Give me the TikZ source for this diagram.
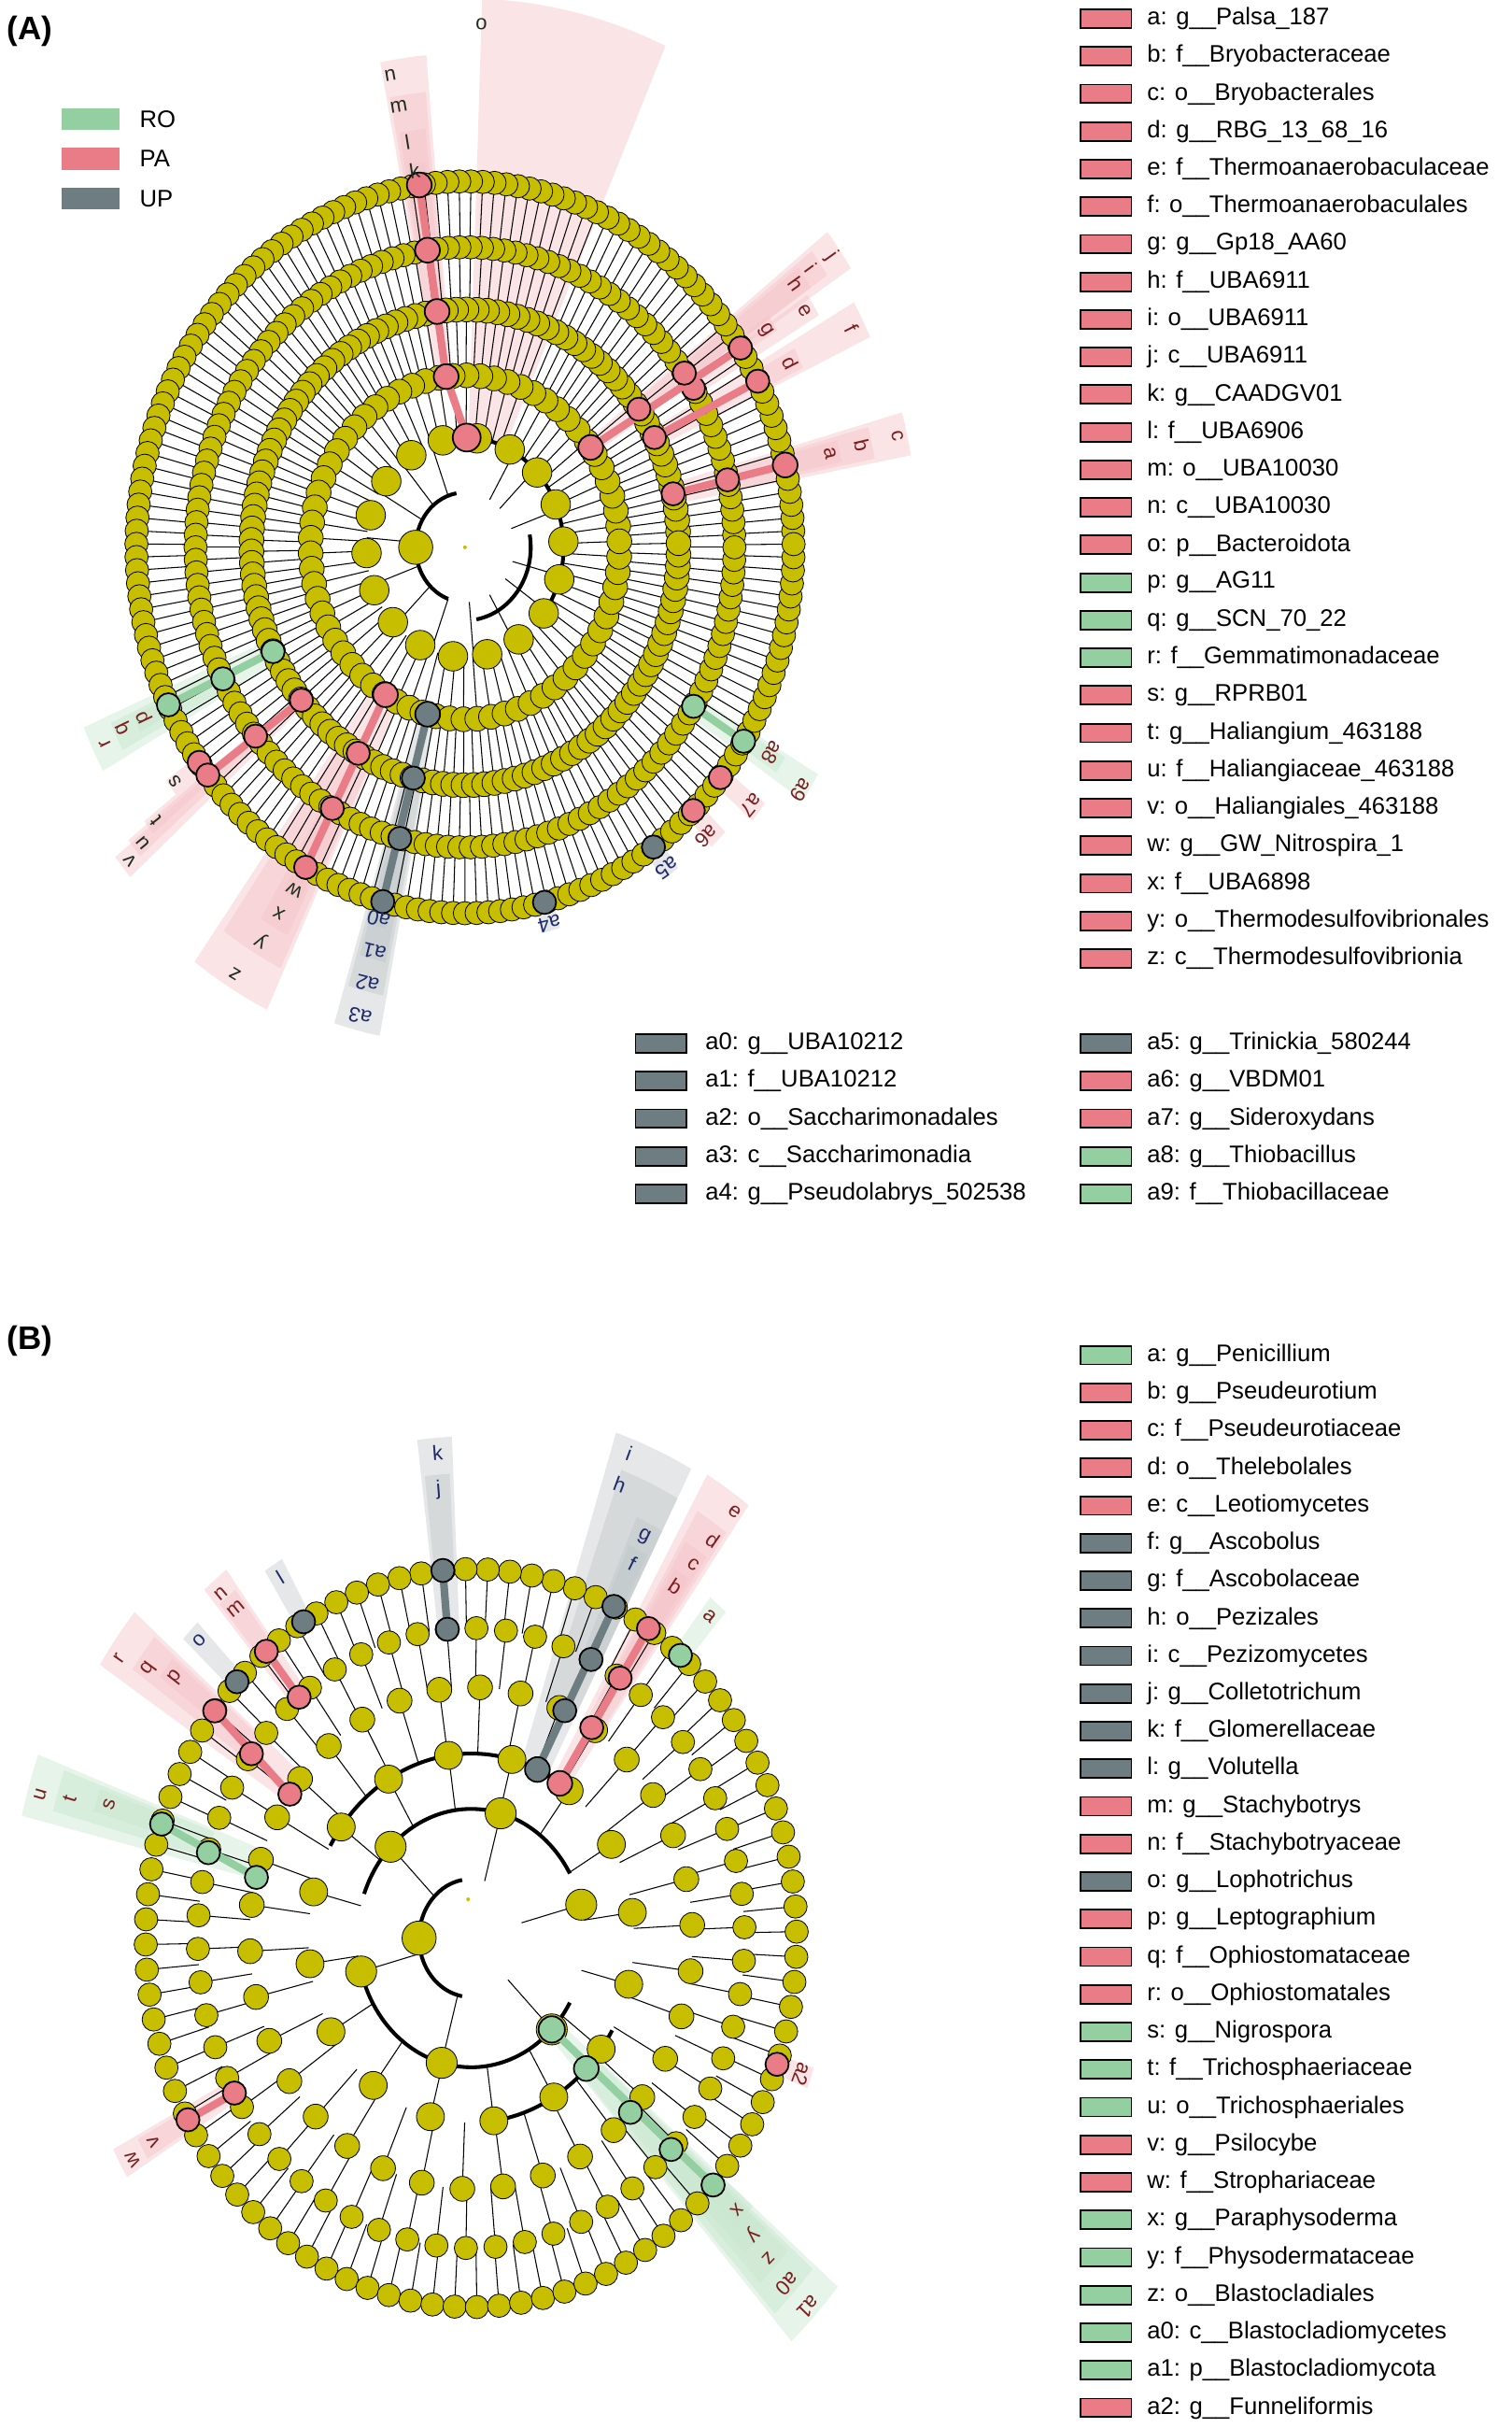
\documentclass[tikz,border=0pt]{standalone}
\usepackage{fontspec}
\setmainfont{Liberation Sans}
\definecolor{yel}{HTML}{C8BE00}
\definecolor{pk}{HTML}{E97C86}
\definecolor{gr}{HTML}{93CFA0}
\definecolor{gy}{HTML}{6E7D82}
\definecolor{navy}{HTML}{1F2A6B}
\definecolor{dred}{HTML}{7A1F1F}
\definecolor{dk}{HTML}{1E2E1E}
\tikzset{
 nd/.style={draw=black,line width=0.7pt},
 lt/.style={anchor=west,font=\fontsize{22}{24}\selectfont,inner sep=0},
 lgbox/.style={draw=black,line width=1.6pt,minimum width=16.5mm,minimum height=6mm,inner sep=0},
 cl/.style={font=\fontsize{19}{22}\selectfont,inner sep=0},
 pw/.style={fill=pk!45,fill opacity=0.45},
 gw/.style={fill=gr!50,fill opacity=0.45},
 yw/.style={fill=gy!45,fill opacity=0.4},
}
\newcommand\wdg[5]{\fill[#1] ({\rx*#2*cos(#4)},{\ry*#2*sin(#4)}) -- ({\rx*#3*cos(#4)},{\ry*#3*sin(#4)}) arc[start angle=#4,end angle=#5,x radius={\rx*#3},y radius={\ry*#3}] -- ({\rx*#2*cos(#5)},{\ry*#2*sin(#5)}) arc[start angle=#5,end angle=#4,x radius={\rx*#2},y radius={\ry*#2}] -- cycle;}
\newcommand\lab[4]{\node[cl,text=#4,rotate={#3-90}] at ({\rx*#2*cos(#3)},{\ry*#2*sin(#3)}) {#1};}
\newcommand\hn[4]{\filldraw[nd,fill=#1,line width=1.5pt] ({\rx*#2*cos(#3)},{\ry*#2*sin(#3)}) circle (#4);}
\newcommand\hl[5]{\draw[#1,line width=7pt] ({\rx*#2*cos(#3)},{\ry*#2*sin(#3)}) -- ({\rx*#4*cos(#5)},{\ry*#4*sin(#5)});}
\newcommand\rlines[4]{\foreach \i in {1,...,#3}{\pgfmathsetmacro\ang{#4+\i/#3*360}\draw[line width=0.9pt] ({\rx*#1*cos(\ang)},{\ry*#1*sin(\ang)}) -- ({\rx*#2*cos(\ang)},{\ry*#2*sin(\ang)});}}
\newcommand\rnodes[4]{\foreach \i in {1,...,#2}{\pgfmathsetmacro\ang{#4+\i/#2*360}\filldraw[nd,fill=yel] ({\rx*#1*cos(\ang)},{\ry*#1*sin(\ang)}) circle (#3);}}
\newcommand\tarc[3]{\draw[line width=3.5pt] ({\rx*#1*cos(#2)},{\ry*#1*sin(#2)}) arc[start angle=#2,end angle=#3,x radius={\rx*#1},y radius={\ry*#1}];}
\begin{document}
\begin{tikzpicture}[x=0.5mm,y=0.5mm]
\useasboundingbox[fill=white] (0,0) rectangle (975,-1566);
% panel labels
\node[font=\fontsize{30}{32}\selectfont\bfseries,anchor=west] (pA) at (2,-20) {(A)};
\node[font=\fontsize{30}{32}\selectfont\bfseries,anchor=west] (pB) at (2,-865) {(B)};
% class legend
\foreach \c/\t [count=\i from 0] in {gr/RO,pk/PA,gy/UP}{
 \fill[\c] (40,{-70-25.5*\i}) rectangle (77,{-84-25.5*\i});
 \node[lt] (cls\i) at (90,{-77-25.5*\i}) {\t};}
% legend A
\foreach \c/\t [count=\i from 0] in {pk/a: g\_\_Palsa\_187,pk/b: f\_\_Bryobacteraceae,pk/c: o\_\_Bryobacterales,pk/d: g\_\_RBG\_13\_68\_16,pk/e: f\_\_Thermoanaerobaculaceae,pk/f: o\_\_Thermoanaerobaculales,pk/g: g\_\_Gp18\_AA60,pk/h: f\_\_UBA6911,pk/i: o\_\_UBA6911,pk/j: c\_\_UBA6911,pk/k: g\_\_CAADGV01,pk/l: f\_\_UBA6906,pk/m: o\_\_UBA10030,pk/n: c\_\_UBA10030,pk/o: p\_\_Bacteroidota,gr/p: g\_\_AG11,gr/q: g\_\_SCN\_70\_22,gr/r: f\_\_Gemmatimonadaceae,pk/s: g\_\_RPRB01,pk/t: g\_\_Haliangium\_463188,pk/u: f\_\_Haliangiaceae\_463188,pk/v: o\_\_Haliangiales\_463188,pk/w: g\_\_GW\_Nitrospira\_1,pk/x: f\_\_UBA6898,pk/y: o\_\_Thermodesulfovibrionales,pk/z: c\_\_Thermodesulfovibrionia}{
 \node[lgbox,fill=\c] (la\i) at (713.5,{-12-24.25*\i}) {};
 \node[lt] (lta\i) at (740,{-12-24.25*\i}) {\t};}
\foreach \c/\t [count=\i from 0] in {gy/a0: g\_\_UBA10212,gy/a1: f\_\_UBA10212,gy/a2: o\_\_Saccharimonadales,gy/a3: c\_\_Saccharimonadia,gy/a4: g\_\_Pseudolabrys\_502538}{
 \node[lgbox,fill=\c] (lb\i) at (426.5,{-673-24.25*\i}) {};
 \node[lt] (ltb\i) at (455,{-673-24.25*\i}) {\t};}
\foreach \c/\t [count=\i from 0] in {gy/a5: g\_\_Trinickia\_580244,pk/a6: g\_\_VBDM01,pk/a7: g\_\_Sideroxydans,gr/a8: g\_\_Thiobacillus,gr/a9: f\_\_Thiobacillaceae}{
 \node[lgbox,fill=\c] (lc\i) at (713.5,{-673-24.25*\i}) {};
 \node[lt] (ltc\i) at (740,{-673-24.25*\i}) {\t};}
% legend B
\foreach \c/\t [count=\i from 0] in {gr/a: g\_\_Penicillium,pk/b: g\_\_Pseudeurotium,pk/c: f\_\_Pseudeurotiaceae,pk/d: o\_\_Thelebolales,pk/e: c\_\_Leotiomycetes,gy/f: g\_\_Ascobolus,gy/g: f\_\_Ascobolaceae,gy/h: o\_\_Pezizales,gy/i: c\_\_Pezizomycetes,gy/j: g\_\_Colletotrichum,gy/k: f\_\_Glomerellaceae,gy/l: g\_\_Volutella,pk/m: g\_\_Stachybotrys,pk/n: f\_\_Stachybotryaceae,gy/o: g\_\_Lophotrichus,pk/p: g\_\_Leptographium,pk/q: f\_\_Ophiostomataceae,pk/r: o\_\_Ophiostomatales,gr/s: g\_\_Nigrospora,gr/t: f\_\_Trichosphaeriaceae,gr/u: o\_\_Trichosphaeriales,pk/v: g\_\_Psilocybe,pk/w: f\_\_Strophariaceae,gr/x: g\_\_Paraphysoderma,gr/y: f\_\_Physodermataceae,gr/z: o\_\_Blastocladiales,gr/a0: c\_\_Blastocladiomycetes,gr/a1: p\_\_Blastocladiomycota,pk/a2: g\_\_Funneliformis}{
 \node[lgbox,fill=\c] (ld\i) at (713.5,{-874-24.25*\i}) {};
 \node[lt] (ltd\i) at (740,{-874-24.25*\i}) {\t};}
% ================= PANEL A =================
\begin{scope}[shift={(300,-353)}]
\def\rx{212}\def\ry{236}
% wedges
\wdg{pw}{0.3}{1.5}{66}{88}
\wdg{pw}{1.0}{1.06}{96.5}{99.5}\wdg{pw}{0.82}{1.15}{96}{100}\wdg{pw}{0.65}{1.25}{95.5}{100.5}\wdg{pw}{0.47}{1.35}{95}{101}
\wdg{pw}{1.0}{1.17}{11.5}{14.5}\wdg{pw}{0.82}{1.27}{11}{15}\wdg{pw}{0.65}{1.38}{10.5}{15.5}
\wdg{pw}{1.0}{1.14}{25.5}{28.5}\wdg{pw}{0.82}{1.25}{30.5}{33.5}\wdg{pw}{0.65}{1.36}{25}{29.5}
\wdg{pw}{1.0}{1.12}{32}{34.5}\wdg{pw}{0.82}{1.27}{34}{37}\wdg{pw}{0.65}{1.33}{34}{37.5}\wdg{pw}{0.47}{1.4}{33}{38}
\wdg{gw}{1.0}{1.11}{204.5}{207}\wdg{gw}{0.82}{1.18}{204}{208}\wdg{gw}{0.65}{1.26}{203}{209}
\wdg{pw}{1.0}{1.11}{215}{217.5}\wdg{pw}{1.0}{1.23}{217.5}{219.5}\wdg{pw}{0.82}{1.3}{218}{220.5}\wdg{pw}{0.65}{1.36}{218.5}{221.5}
\wdg{pw}{1.0}{1.09}{239.5}{242.5}\wdg{pw}{0.82}{1.19}{238.5}{243}\wdg{pw}{0.65}{1.28}{235}{244}\wdg{pw}{0.47}{1.4}{234}{244.5}
\wdg{yw}{1.0}{1.07}{254}{257}\wdg{yw}{0.82}{1.16}{254}{258}\wdg{yw}{0.65}{1.25}{253.5}{258.5}\wdg{yw}{0.47}{1.36}{253}{259}
\wdg{yw}{1.0}{1.08}{282.5}{285.5}\wdg{yw}{1.0}{1.09}{303.5}{306.5}
\wdg{pw}{1.0}{1.11}{312.5}{315.5}\wdg{pw}{1.0}{1.15}{319.5}{322.5}
\wdg{gw}{1.0}{1.13}{327}{329.5}\wdg{gw}{0.82}{1.24}{326}{330}
% lines
\rlines{0.3}{0.47}{70}{2}\rlines{0.47}{0.65}{130}{1}\rlines{0.65}{0.82}{150}{0}\rlines{0.82}{1.0}{175}{0.5}
\foreach \a in {110,130,150,175,200,225,250,275,300,325,345,20,45,60}{\draw[line width=0.9pt] ({\rx*0.15*cos(\a)},{\ry*0.15*sin(\a)}) -- ({\rx*0.3*cos(\a)},{\ry*0.3*sin(\a)});}
\draw[line width=0.9pt] ({\rx*0.1*cos(180)},{\ry*0.1*sin(180)}) -- ({\rx*0.15*cos(180)},{\ry*0.15*sin(180)});
\tarc{0.3}{95}{-45}\tarc{0.2}{10}{-80}\tarc{0.15}{100}{250}
% nodes
\rnodes{0.3}{18}{9.5}{3}\rnodes{0.47}{70}{8}{2}\rnodes{0.65}{130}{8}{1}\rnodes{0.82}{150}{7.5}{0}\rnodes{1.0}{175}{7.5}{0.5}
\filldraw[nd,fill=yel] ({\rx*0.15*cos(180)},{\ry*0.15*sin(180)}) circle (11);
\fill[yel] (0,0) circle (1.2);
% highlighted
\hl{pk}{1.0}{98}{0.47}{97}\hl{pk}{0.47}{97}{0.3}{89}
\hn{pk}{1.0}{98}{8}\hn{pk}{0.82}{98}{8}\hn{pk}{0.65}{97.5}{8}\hn{pk}{0.47}{97}{8}\hn{pk}{0.3}{89}{9}
\hl{pk}{1.0}{13}{0.65}{13}\hn{pk}{1.0}{13}{8}\hn{pk}{0.82}{13}{7.5}\hn{pk}{0.65}{13}{7.5}
\hl{pk}{1.0}{27}{0.65}{27.5}\hn{pk}{1.0}{27}{7.5}\hn{pk}{0.82}{32}{7.5}\hn{pk}{0.65}{27.5}{7.5}
\hl{pk}{1.0}{33}{0.47}{35.5}\hn{pk}{1.0}{33}{7.5}\hn{pk}{0.82}{35.5}{7.5}\hn{pk}{0.65}{35.5}{7.5}\hn{pk}{0.47}{35.5}{8}
\hl{gr}{1.0}{205.5}{0.65}{206}\hn{gr}{1.0}{205.5}{7.5}\hn{gr}{0.82}{206}{7.5}\hn{gr}{0.65}{206}{7.5}
\hn{pk}{1.0}{216}{7.5}\hl{pk}{1.0}{218.5}{0.65}{220}\hn{pk}{1.0}{218.5}{7.5}\hn{pk}{0.82}{219}{7.5}\hn{pk}{0.65}{220}{7.5}
\hl{pk}{1.0}{241}{0.47}{239}\hn{pk}{1.0}{241}{7.5}\hn{pk}{0.82}{240.5}{7.5}\hn{pk}{0.65}{240}{7.5}\hn{pk}{0.47}{239}{8}
\hl{gy}{1.0}{255.5}{0.47}{256}\hn{gy}{1.0}{255.5}{7.5}\hn{gy}{0.82}{256}{7.5}\hn{gy}{0.65}{256}{7.5}\hn{gy}{0.47}{256}{8}
\hn{gy}{1.0}{284}{7.5}\hn{gy}{1.0}{305}{7.5}\hn{pk}{1.0}{314}{7.5}\hn{pk}{1.0}{321}{7.5}
\hl{gr}{1.0}{328}{0.82}{328}\hn{gr}{1.0}{328}{7.5}\hn{gr}{0.82}{328}{7.5}
% labels
\lab{o}{1.43}{88}{dk}
\lab{k}{1.04}{98.5}{dk}\lab{l}{1.12}{99}{dk}\lab{m}{1.22}{99.5}{dk}\lab{n}{1.31}{100}{dk}
\lab{a}{1.14}{13}{dred}\lab{b}{1.24}{13}{dred}\lab{c}{1.35}{13}{dred}
\lab{d}{1.11}{27}{dred}\lab{e}{1.22}{32}{dred}\lab{f}{1.32}{27}{dred}\lab{g}{1.09}{33}{dred}\lab{h}{1.24}{35.5}{dred}\lab{i}{1.30}{36}{dred}\lab{j}{1.37}{35.5}{dred}
\lab{p}{1.08}{205.5}{dred}\lab{q}{1.15}{205.5}{dred}\lab{r}{1.22}{206}{dred}
\lab{s}{1.09}{216}{dk}\lab{t}{1.2}{218.5}{dk}\lab{u}{1.27}{219.5}{dk}\lab{v}{1.33}{220}{dk}
\lab{w}{1.07}{241}{dk}\lab{x}{1.15}{240.5}{dk}\lab{y}{1.24}{240}{dk}\lab{z}{1.36}{239}{dk}
\lab{a0}{1.05}{255.5}{navy}\lab{a1}{1.14}{256}{navy}\lab{a2}{1.23}{256}{navy}\lab{a3}{1.32}{256}{navy}
\lab{a4}{1.06}{284}{navy}\lab{a5}{1.07}{305}{navy}\lab{a6}{1.08}{313}{dred}\lab{a7}{1.12}{321}{dred}
\lab{a8}{1.09}{329}{dred}\lab{a9}{1.22}{327}{dred}
\end{scope}
% ================= PANEL B =================
\begin{scope}[shift={(304,-1250)}]
\def\rx{210}\def\ry{238}
\wdg{gw}{1.0}{1.18}{48.5}{51.5}
\wdg{pw}{1.0}{1.18}{55.5}{58}\wdg{pw}{0.84}{1.26}{55}{58.5}\wdg{pw}{0.68}{1.35}{54.5}{59}\wdg{pw}{0.5}{1.45}{54}{60}
\wdg{yw}{1.0}{1.17}{62.5}{65.5}\wdg{yw}{0.84}{1.25}{62}{66}\wdg{yw}{0.68}{1.35}{62}{70}\wdg{yw}{0.5}{1.44}{62}{72}
\wdg{yw}{1.0}{1.26}{93}{96.5}\wdg{yw}{0.84}{1.36}{92.5}{97}
\wdg{yw}{1.0}{1.18}{119.5}{122.5}
\wdg{pw}{1.0}{1.19}{127.5}{130.5}\wdg{pw}{0.84}{1.25}{127}{131}
\wdg{yw}{1.0}{1.2}{134.5}{137.5}
\wdg{pw}{1.0}{1.19}{140.5}{143.5}\wdg{pw}{0.84}{1.27}{140}{145}\wdg{pw}{0.68}{1.36}{139.5}{147}
\wdg{gw}{1.0}{1.21}{160.5}{163.5}\wdg{gw}{0.84}{1.33}{160}{165}\wdg{gw}{0.68}{1.42}{159.5}{166.5}
\wdg{pw}{1.0}{1.16}{208}{211}\wdg{pw}{0.84}{1.24}{207.5}{211.5}
\wdg{gw}{1.0}{1.13}{316}{320}\wdg{gw}{0.84}{1.2}{314.5}{319}\wdg{gw}{0.68}{1.29}{313.5}{319}\wdg{gw}{0.5}{1.38}{312.5}{319.5}\wdg{gw}{0.35}{1.47}{312}{320}
\wdg{pw}{1.0}{1.11}{338.5}{341.5}
\rlines{0.35}{0.5}{16}{8}\rlines{0.5}{0.68}{34}{3}\rlines{0.68}{0.84}{58}{2}\rlines{0.84}{1.0}{92}{1}
\rlines{0.16}{0.35}{6}{15}
\tarc{0.16}{100}{260}\tarc{0.35}{30}{160}\tarc{0.35}{200}{330}\tarc{0.5}{60}{150}\tarc{0.5}{280}{330}
\rnodes{0.35}{6}{10}{15}\rnodes{0.5}{16}{9}{8}\rnodes{0.68}{34}{8}{3}\rnodes{0.84}{58}{7.5}{2}\rnodes{1.0}{92}{7.5}{1}
\filldraw[nd,fill=yel] ({\rx*0.16*cos(180)},{\ry*0.16*sin(180)}) circle (11);
\fill[yel] (-2,25) circle (1.2);
\hn{gr}{1.0}{50}{7.5}
\hl{pk}{1.0}{57}{0.5}{57}\hn{pk}{1.0}{57}{7.5}\hn{pk}{0.84}{57}{7.5}\hn{pk}{0.68}{57}{7.5}\hn{pk}{0.5}{57}{8}
\hl{gy}{1.0}{64}{0.5}{66}\hn{gy}{1.0}{64}{7.5}\hn{gy}{0.84}{64}{7.5}\hn{gy}{0.68}{65}{7.5}\hn{gy}{0.5}{66}{8}
\hl{gy}{1.0}{95}{0.84}{95}\hn{gy}{1.0}{95}{7.5}\hn{gy}{0.84}{95}{7.5}
\hn{gy}{1.0}{121}{7.5}
\hl{pk}{1.0}{129}{0.84}{129}\hn{pk}{1.0}{129}{7.5}\hn{pk}{0.84}{129}{7.5}
\hn{gy}{1.0}{136}{7.5}
\hl{pk}{1.0}{142}{0.68}{145}\hn{pk}{1.0}{142}{7.5}\hn{pk}{0.84}{143.5}{7.5}\hn{pk}{0.68}{145}{7.5}
\hl{gr}{1.0}{162}{0.68}{166}\hn{gr}{1.0}{162}{7.5}\hn{gr}{0.84}{164}{7.5}\hn{gr}{0.68}{166}{7.5}
\hl{pk}{1.0}{209.5}{0.84}{210}\hn{pk}{1.0}{209.5}{7.5}\hn{pk}{0.84}{210}{7.5}
\hl{gr}{1.0}{318}{0.35}{315}\hn{gr}{1.0}{318}{7.5}\hn{gr}{0.84}{317}{7.5}\hn{gr}{0.68}{316}{7.5}\hn{gr}{0.5}{315}{8}\hn{gr}{0.35}{315}{8.5}
\hn{pk}{1.0}{340}{7.5}
\lab{a}{1.14}{50}{dred}\lab{b}{1.14}{56.6}{dred}\lab{c}{1.22}{56}{dred}\lab{d}{1.31}{55.5}{dred}\lab{e}{1.41}{55}{dred}
\lab{f}{1.13}{64}{navy}\lab{g}{1.21}{64}{navy}\lab{h}{1.31}{69.6}{navy}\lab{i}{1.40}{69.7}{navy}
\lab{j}{1.22}{94.7}{navy}\lab{k}{1.32}{94.5}{navy}\lab{l}{1.14}{121}{navy}
\lab{m}{1.15}{129}{dred}\lab{n}{1.21}{129.5}{dred}\lab{o}{1.16}{136}{navy}
\lab{p}{1.15}{142}{dred}\lab{q}{1.23}{143.6}{dred}\lab{r}{1.32}{145}{dred}
\lab{s}{1.17}{162}{dred}\lab{t}{1.29}{163}{dred}\lab{u}{1.38}{163.6}{dred}
\lab{v}{1.12}{209.5}{dred}\lab{w}{1.2}{210}{dred}
\lab{x}{1.1}{318}{dred}\lab{y}{1.18}{317}{dred}\lab{z}{1.26}{316.5}{dred}\lab{a0}{1.35}{316}{dred}\lab{a1}{1.44}{316}{dred}
\lab{a2}{1.08}{340}{dred}
\end{scope}
\end{tikzpicture}
\end{document}
